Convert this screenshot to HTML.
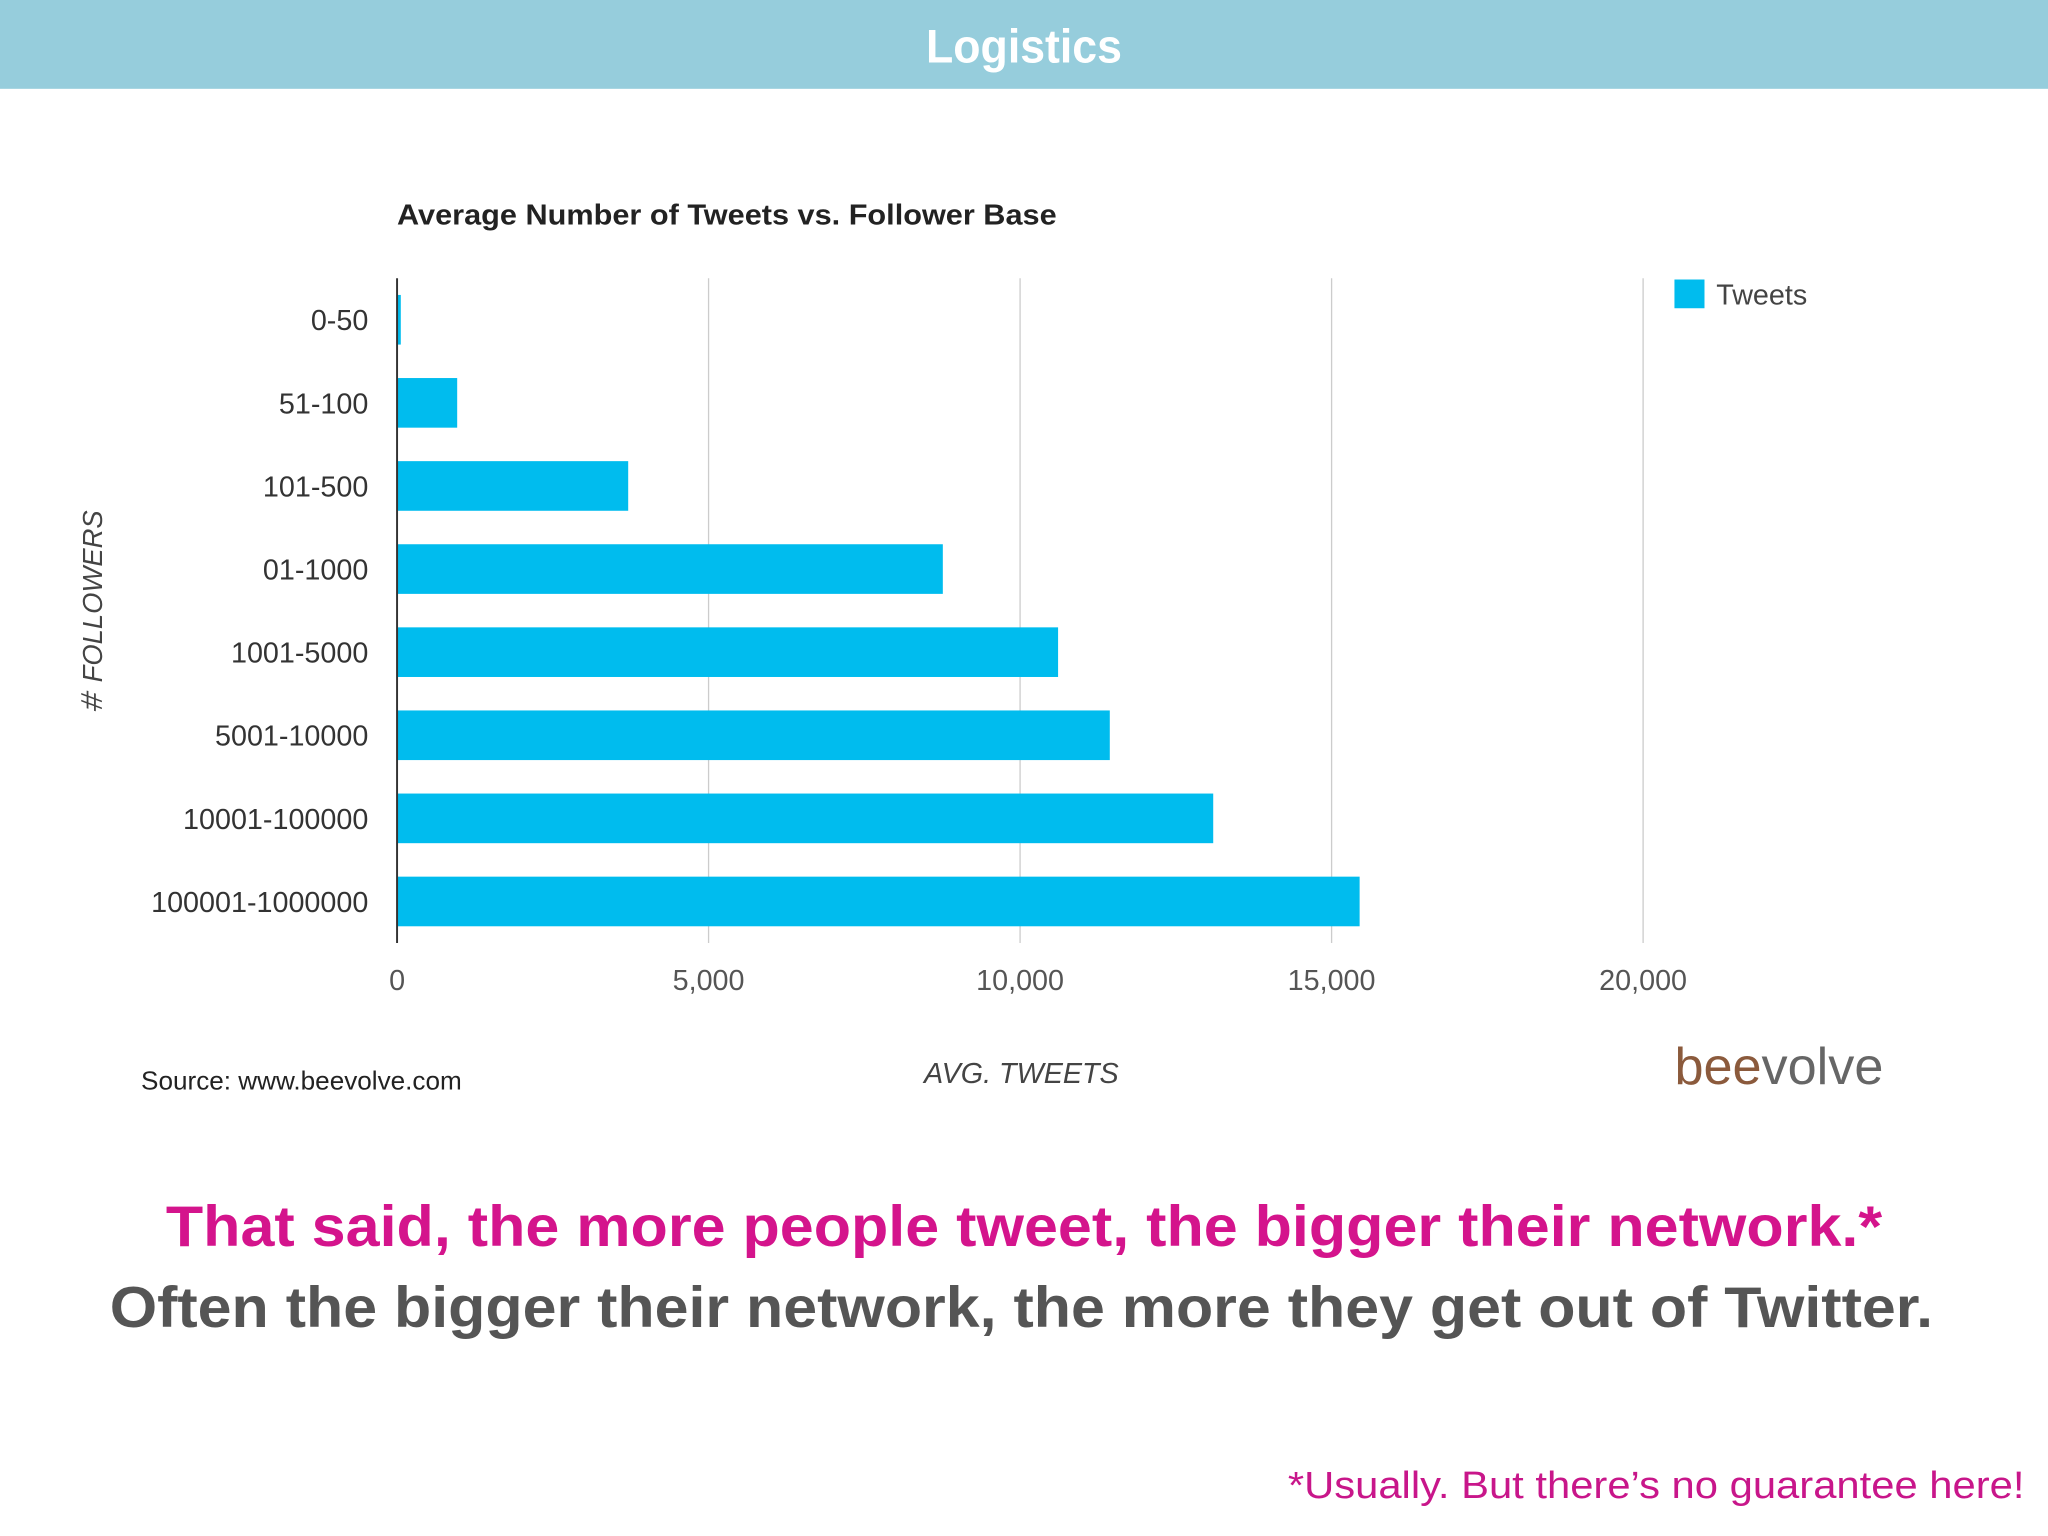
<!DOCTYPE html>
<html><head><meta charset="utf-8"><style>
html,body{margin:0;padding:0;background:#fff;}
svg{display:block;font-family:"Liberation Sans",sans-serif;}
</style></head><body>
<svg id="chart" width="2048" height="1536" viewBox="0 0 1568 1176" xmlns="http://www.w3.org/2000/svg">
<rect x="0" y="0" width="1568" height="68" fill="#96CDDC"/>
<text x="784" y="48" text-anchor="middle" fill="#fff" font-weight="bold" font-size="36" textLength="150" lengthAdjust="spacingAndGlyphs">Logistics</text>
<text x="304" y="172" font-weight="bold" font-size="22" fill="#222" textLength="505" lengthAdjust="spacingAndGlyphs">Average Number of Tweets vs. Follower Base</text>
<g id="grid"></g>
<g id="bars"></g>
<g id="ylabels"></g>
<g id="xlabels"></g>
<line x1="304" y1="213" x2="304" y2="722" stroke="#333" stroke-width="1.5"/>
<rect x="1282" y="214" width="23" height="22" fill="#00BCEE"/>
<text x="1314" y="233" font-size="22" fill="#444">Tweets</text>
<text transform="translate(78,470) rotate(-90)" text-anchor="middle" font-size="21" font-style="italic" fill="#444">＃ FOLLOWERS</text>
<text x="782" y="829" text-anchor="middle" font-size="22" font-style="italic" fill="#444">AVG. TWEETS</text>
<text x="108" y="834" font-size="20" fill="#222">Source: www.beevolve.com</text>
<text x="1282" y="830" font-size="40" fill="#666" textLength="160" lengthAdjust="spacingAndGlyphs"><tspan fill="#8B5A3C">bee</tspan>volve</text>
<text x="784" y="954" text-anchor="middle" font-size="44" font-weight="bold" fill="#D4148C" textLength="1314" lengthAdjust="spacingAndGlyphs">That said, the more people tweet, the bigger their network.*</text>
<text x="782" y="1016" text-anchor="middle" font-size="44" font-weight="bold" fill="#555" textLength="1396" lengthAdjust="spacingAndGlyphs">Often the bigger their network, the more they get out of Twitter.</text>
<text x="1550" y="1147" text-anchor="end" font-size="29" fill="#C8168A" textLength="564" lengthAdjust="spacingAndGlyphs">*Usually. But there’s no guarantee here!</text>
</svg>
<script>
const categories = ["0-50","51-100","101-500","01-1000","1001-5000","5001-10000","10001-100000","100001-1000000"];
const tweets = [60, 965, 3710, 8760, 10610, 11440, 13100, 15450];
const xTicks = [0, 5000, 10000, 15000, 20000];
const xTickLabels = ["0","5,000","10,000","15,000","20,000"];
const NS = "http://www.w3.org/2000/svg";
const X0 = 304, X1 = 1258, XMAX = 20000, YT = 213, YB = 722;
function xs(v){ return X0 + (X1 - X0) * v / XMAX; }
const band = (YB - YT) / categories.length;
function yc(i){ return YT + band * (i + 0.5); }
function mk(tag, attrs){ const e = document.createElementNS(NS, tag); for (const k in attrs) e.setAttribute(k, attrs[k]); return e; }
const grid = document.getElementById('grid'), bars = document.getElementById('bars'), yl = document.getElementById('ylabels'), xl = document.getElementById('xlabels');
xTicks.forEach((t, i) => {
  if (t > 0) {
    const g = mk('line', {x1: xs(t), x2: xs(t), y1: YT, y2: YB, stroke: '#ccc', 'stroke-width': 1});
    
    
    grid.appendChild(g);
  }
  const tx = mk('text', {x: xs(t), y: 758, 'text-anchor': 'middle', 'font-size': 22, fill: '#555'});
  tx.textContent = xTickLabels[i];
  
  
  xl.appendChild(tx);
});
categories.forEach((c, i) => {
  const r = mk('rect', {x: X0, y: yc(i) - 19, width: xs(tweets[i]) - X0, height: 38, fill: '#00BCEE'});
  
  
  bars.appendChild(r);
  const t = mk('text', {x: 282, y: yc(i) + 8, 'text-anchor': 'end', 'font-size': 22, fill: '#333'});
  t.textContent = c;
  
  
  yl.appendChild(t);
});
</script>
</body></html>
